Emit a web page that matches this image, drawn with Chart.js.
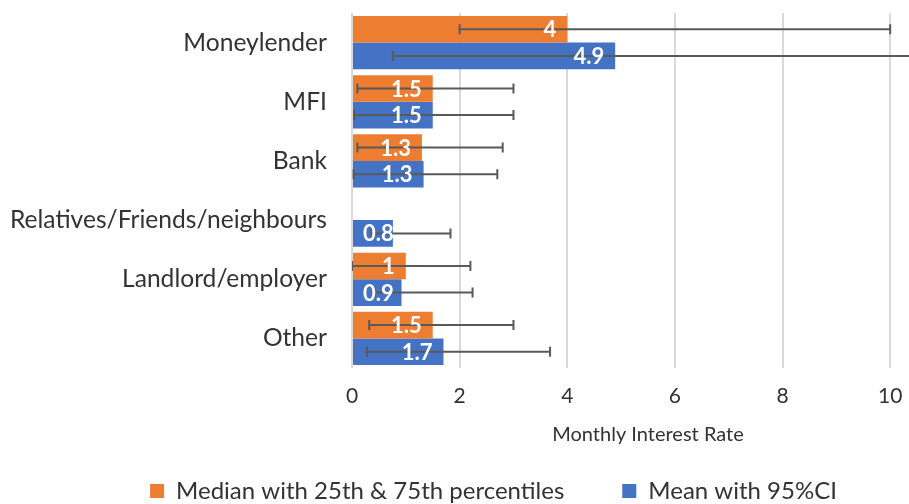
<!DOCTYPE html>
<html lang="en">
  <head>
    <meta charset="UTF-8">
    <title>Monthly Interest Rate by Source</title>
    <script src="https://cdn.jsdelivr.net/npm/chart.js"></script>
    <style>
      html, body { margin: 0; padding: 0; overflow: hidden; background: #fff; }
      .chart-container { width: 987px; height: 515px; }
    </style>
  </head>
  <body>
    <div class="chart-container">
      <canvas id="rateChart"></canvas>
    </div>

    <script>
      const categories = ['Moneylender', 'MFI', 'Bank', 'Relatives/Friends/neighbours', 'Landlord/employer', 'Other'];

      // median with 25th / 75th percentiles
      const medianValues = [4, 1.5, 1.3, null, 1, 1.5];
      const medianLow = [2, 0.1, 0.1, null, 0, 0.32];
      const medianHigh = [10, 3, 2.8, null, 2.2, 3];

      // mean with 95% CI
      const meanValues = [4.89, 1.5, 1.33, 0.76, 0.92, 1.7];
      const meanLow = [0.76, 0.04, 0.03, 0.36, 0.42, 0.28];
      const meanHigh = [11.5, 3, 2.7, 1.83, 2.24, 3.68];

      const xTicks = [0, 2, 4, 6, 8, 10];

      const fontFamily = 'Lato, "Open Sans", sans-serif';
      const textColor = '#333333';

      // error bars, drawn from the low/high arrays via the x scale
      const errorBars = {
        id: 'errorBars',
        afterDatasetsDraw(chart) {
          const ctx = chart.ctx;
          const x = chart.scales.x;
          const area = chart.chartArea;
          ctx.save();
          ctx.beginPath();
          ctx.rect(area.left, area.top, area.right - area.left, area.bottom - area.top);
          ctx.clip();
          ctx.strokeStyle = '#595959';
          ctx.lineWidth = 2;
          chart.data.datasets.forEach((ds, di) => {
            const meta = chart.getDatasetMeta(di);
            meta.data.forEach((bar, i) => {
              const lo = ds.errLow[i], hi = ds.errHigh[i];
              if (lo == null || hi == null) return;
              const x0 = x.getPixelForValue(lo), x1 = x.getPixelForValue(hi);
              const y = bar.y;
              ctx.beginPath();
              ctx.moveTo(x0, y); ctx.lineTo(x1, y);
              ctx.moveTo(x0, y - 5); ctx.lineTo(x0, y + 5);
              ctx.moveTo(x1, y - 5); ctx.lineTo(x1, y + 5);
              ctx.stroke();
            });
          });
          ctx.restore();
        }
      };

      // white value labels at the inside end of each bar
      const valueLabels = {
        id: 'valueLabels',
        afterDraw(chart) {
          const ctx = chart.ctx;
          ctx.save();
          ctx.font = 'bold 22px ' + fontFamily;
          ctx.fillStyle = '#ffffff';
          ctx.textBaseline = 'middle';
          ctx.textAlign = 'left';
          chart.data.datasets.forEach((ds, di) => {
            const meta = chart.getDatasetMeta(di);
            meta.data.forEach((bar, i) => {
              const v = ds.data[i];
              if (v == null) return;
              const txt = String(Math.round(v * 10) / 10);
              const w = ctx.measureText(txt).width;
              let left = bar.x - 11 - w;
              if (left < bar.base + 10) left = bar.base + 10;
              ctx.fillText(txt, left, bar.y + 1);
            });
          });
          ctx.restore();
        }
      };

      const ctx = document.getElementById('rateChart').getContext('2d');
      new Chart(ctx, {
        type: 'bar',
        data: {
          labels: categories,
          datasets: [
            {
              label: 'Median with 25th & 75th percentiles',
              data: medianValues,
              errLow: medianLow,
              errHigh: medianHigh,
              backgroundColor: '#ED7D31'
            },
            {
              label: 'Mean with 95%CI',
              data: meanValues,
              errLow: meanLow,
              errHigh: meanHigh,
              backgroundColor: '#4472C4'
            }
          ]
        },
        options: {
          indexAxis: 'y',
          responsive: true,
          maintainAspectRatio: false,
          animation: false,
          categoryPercentage: 0.9,
          barPercentage: 1,
          layout: { padding: { top: 13, left: 43, right: 43, bottom: 2 } },
          plugins: {
            tooltip: { enabled: false },
            legend: {
              position: 'bottom',
              labels: {
                font: { family: fontFamily, size: 24 },
                color: textColor,
                boxWidth: 14,
                boxHeight: 14,
                padding: 58
              }
            }
          },
          scales: {
            x: {
              min: 0,
              max: 11,
              afterFit: (scale) => { scale.height = 53; },
              afterBuildTicks: (scale) => { scale.ticks = xTicks.map(v => ({ value: v })); },
              ticks: {
                stepSize: 2,
                includeBounds: false,
                padding: 16,
                font: { family: fontFamily, size: 21 },
                color: textColor
              },
              grid: { color: '#d9d9d9', lineWidth: 2, drawTicks: false },
              border: { display: false },
              title: {
                display: true,
                text: 'Monthly Interest Rate',
                font: { family: fontFamily, size: 20 },
                color: textColor,
                padding: { top: 0, bottom: -26 }
              }
            },
            y: {
              afterFit: (scale) => {
                scale.width = 309;
                scale.paddingTop = 0;
                scale.paddingBottom = 0;
                // long labels reach into the layout padding, so do not clip them
                scale._computeLabelArea = () => undefined;
              },
              ticks: {
                padding: 25,
                font: { family: fontFamily, size: 24.6 },
                color: textColor
              },
              grid: { display: false, drawTicks: false },
              border: { display: false }
            }
          }
        },
        plugins: [errorBars, valueLabels]
      });
    </script>
  </body>
</html>
